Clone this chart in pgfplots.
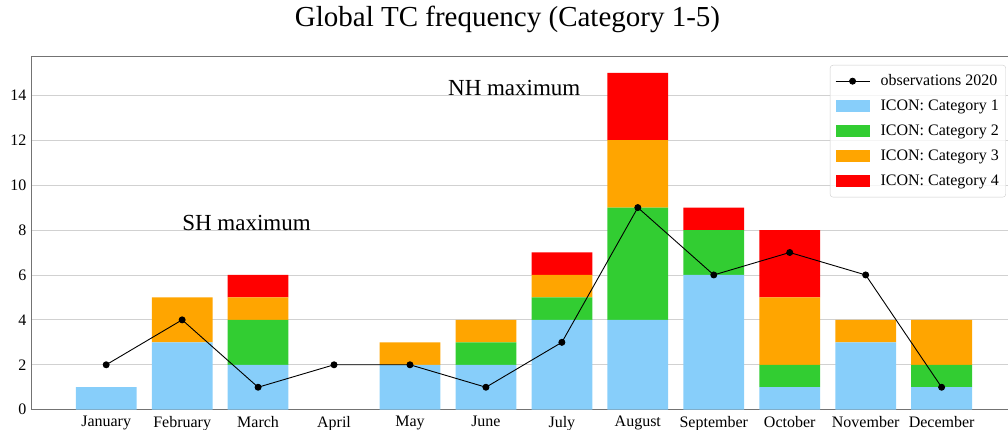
\documentclass[border=0pt]{standalone}
\usepackage{pgfplots}
\pgfplotsset{compat=1.18}
\usepackage{fontspec}
\setmainfont{Liberation Serif}
\definecolor{cat1}{HTML}{87CEFA}
\definecolor{cat2}{HTML}{32CD32}
\definecolor{cat3}{HTML}{FFA500}
\definecolor{cat4}{HTML}{FF0000}
\pgfplotsset{
  common/.style={
    scale only axis,
    width=985.8pt, height=353.7pt,
    xmin=-0.99, xmax=11.99, ymin=0, ymax=15.75,
  },
  barleg/.style={legend image code/.code={\fill[##1, sharp corners, fill opacity=1] (0pt,-6pt) rectangle (34pt,6pt);\path[draw=none, fill=none] (0pt,0pt) -- (43pt,0pt);}},
  obsleg/.style={legend image code/.code={\draw[##1, sharp plot, sharp corners, draw opacity=1, fill opacity=1] plot coordinates {(0pt,0pt) (17pt,0pt) (34pt,0pt)};\fill[black, opacity=1] (17pt,0pt) circle (3pt);\path[draw=none, fill=none] (0pt,0pt) -- (43pt,0pt);}},
}
\begin{document}
\begin{tikzpicture}
\begin{axis}[common,
  name=ax,
  ybar stacked, bar width=0.8,
  axis line style={draw=black!55, line width=0.8pt},
  xtick={0,...,11},
  xticklabels={January,February,March,April,May,June,July,August,September,October,November,December},
  ytick={0,2,...,14},
  major tick length=0pt,
  tick pos=left,
  ymajorgrids, major grid style={black!18, line width=0.8pt},
  /pgf/number format/assume math mode=true,
  tick label style={font=\fontsize{16}{19}\selectfont},
  yticklabel style={xshift=-1pt},
  xticklabel style={yshift=-3pt},
  title={Global TC frequency (Category 1-5)},
  title style={at={(axis description cs:0.4834,1)}, anchor=base, yshift=23pt, font=\fontsize{29}{34}\selectfont},
  legend cell align=left,
  legend style={at={(axis description cs:0.989,0.9746)}, anchor=north east,
    draw=black!20, rounded corners=3pt, fill=white, fill opacity=0.8, text opacity=1,
    font=\fontsize{16}{19}\selectfont, inner xsep=5pt, inner ysep=6.5pt,
    row sep=6pt,
    nodes={inner sep=2pt, text height=11.5pt, text depth=3.5pt}},
]
\addlegendimage{black, line width=0.9pt, obsleg}
\addlegendentry{observations 2020}
\addplot[fill=cat1, draw=none, barleg] coordinates {(0,1) (1,3) (2,2) (3,0) (4,2) (5,2) (6,4) (7,4) (8,6) (9,1) (10,3) (11,1)};
\addlegendentry{ICON: Category 1}
\addplot[fill=cat2, draw=none, barleg] coordinates {(0,0) (1,0) (2,2) (3,0) (4,0) (5,1) (6,1) (7,5) (8,2) (9,1) (10,0) (11,1)};
\addlegendentry{ICON: Category 2}
\addplot[fill=cat3, draw=none, barleg] coordinates {(0,0) (1,2) (2,1) (3,0) (4,1) (5,1) (6,1) (7,3) (8,0) (9,3) (10,1) (11,2)};
\addlegendentry{ICON: Category 3}
\addplot[fill=cat4, draw=none, barleg] coordinates {(0,0) (1,0) (2,1) (3,0) (4,0) (5,0) (6,1) (7,3) (8,1) (9,3) (10,0) (11,0)};
\addlegendentry{ICON: Category 4}
\node[anchor=base west, inner sep=0pt, font=\fontsize{23}{27}\selectfont] at (axis cs:1,8) {SH maximum};
\node[anchor=base west, inner sep=0pt, font=\fontsize{23}{27}\selectfont] at (axis cs:4.5,14) {NH maximum};
\end{axis}
\begin{axis}[common, hide axis]
\addplot[black, line width=0.9pt, mark=*, mark size=3pt] coordinates {(0,2) (1,4) (2,1) (3,2) (4,2) (5,1) (6,3) (7,9) (8,6) (9,7) (10,6) (11,1)};
\end{axis}
\pgfresetboundingbox
\path ([shift={(-31pt,-20.3pt)}]ax.south west) rectangle ([shift={(977pt,409.7pt)}]ax.south west);
\end{tikzpicture}
\end{document}
